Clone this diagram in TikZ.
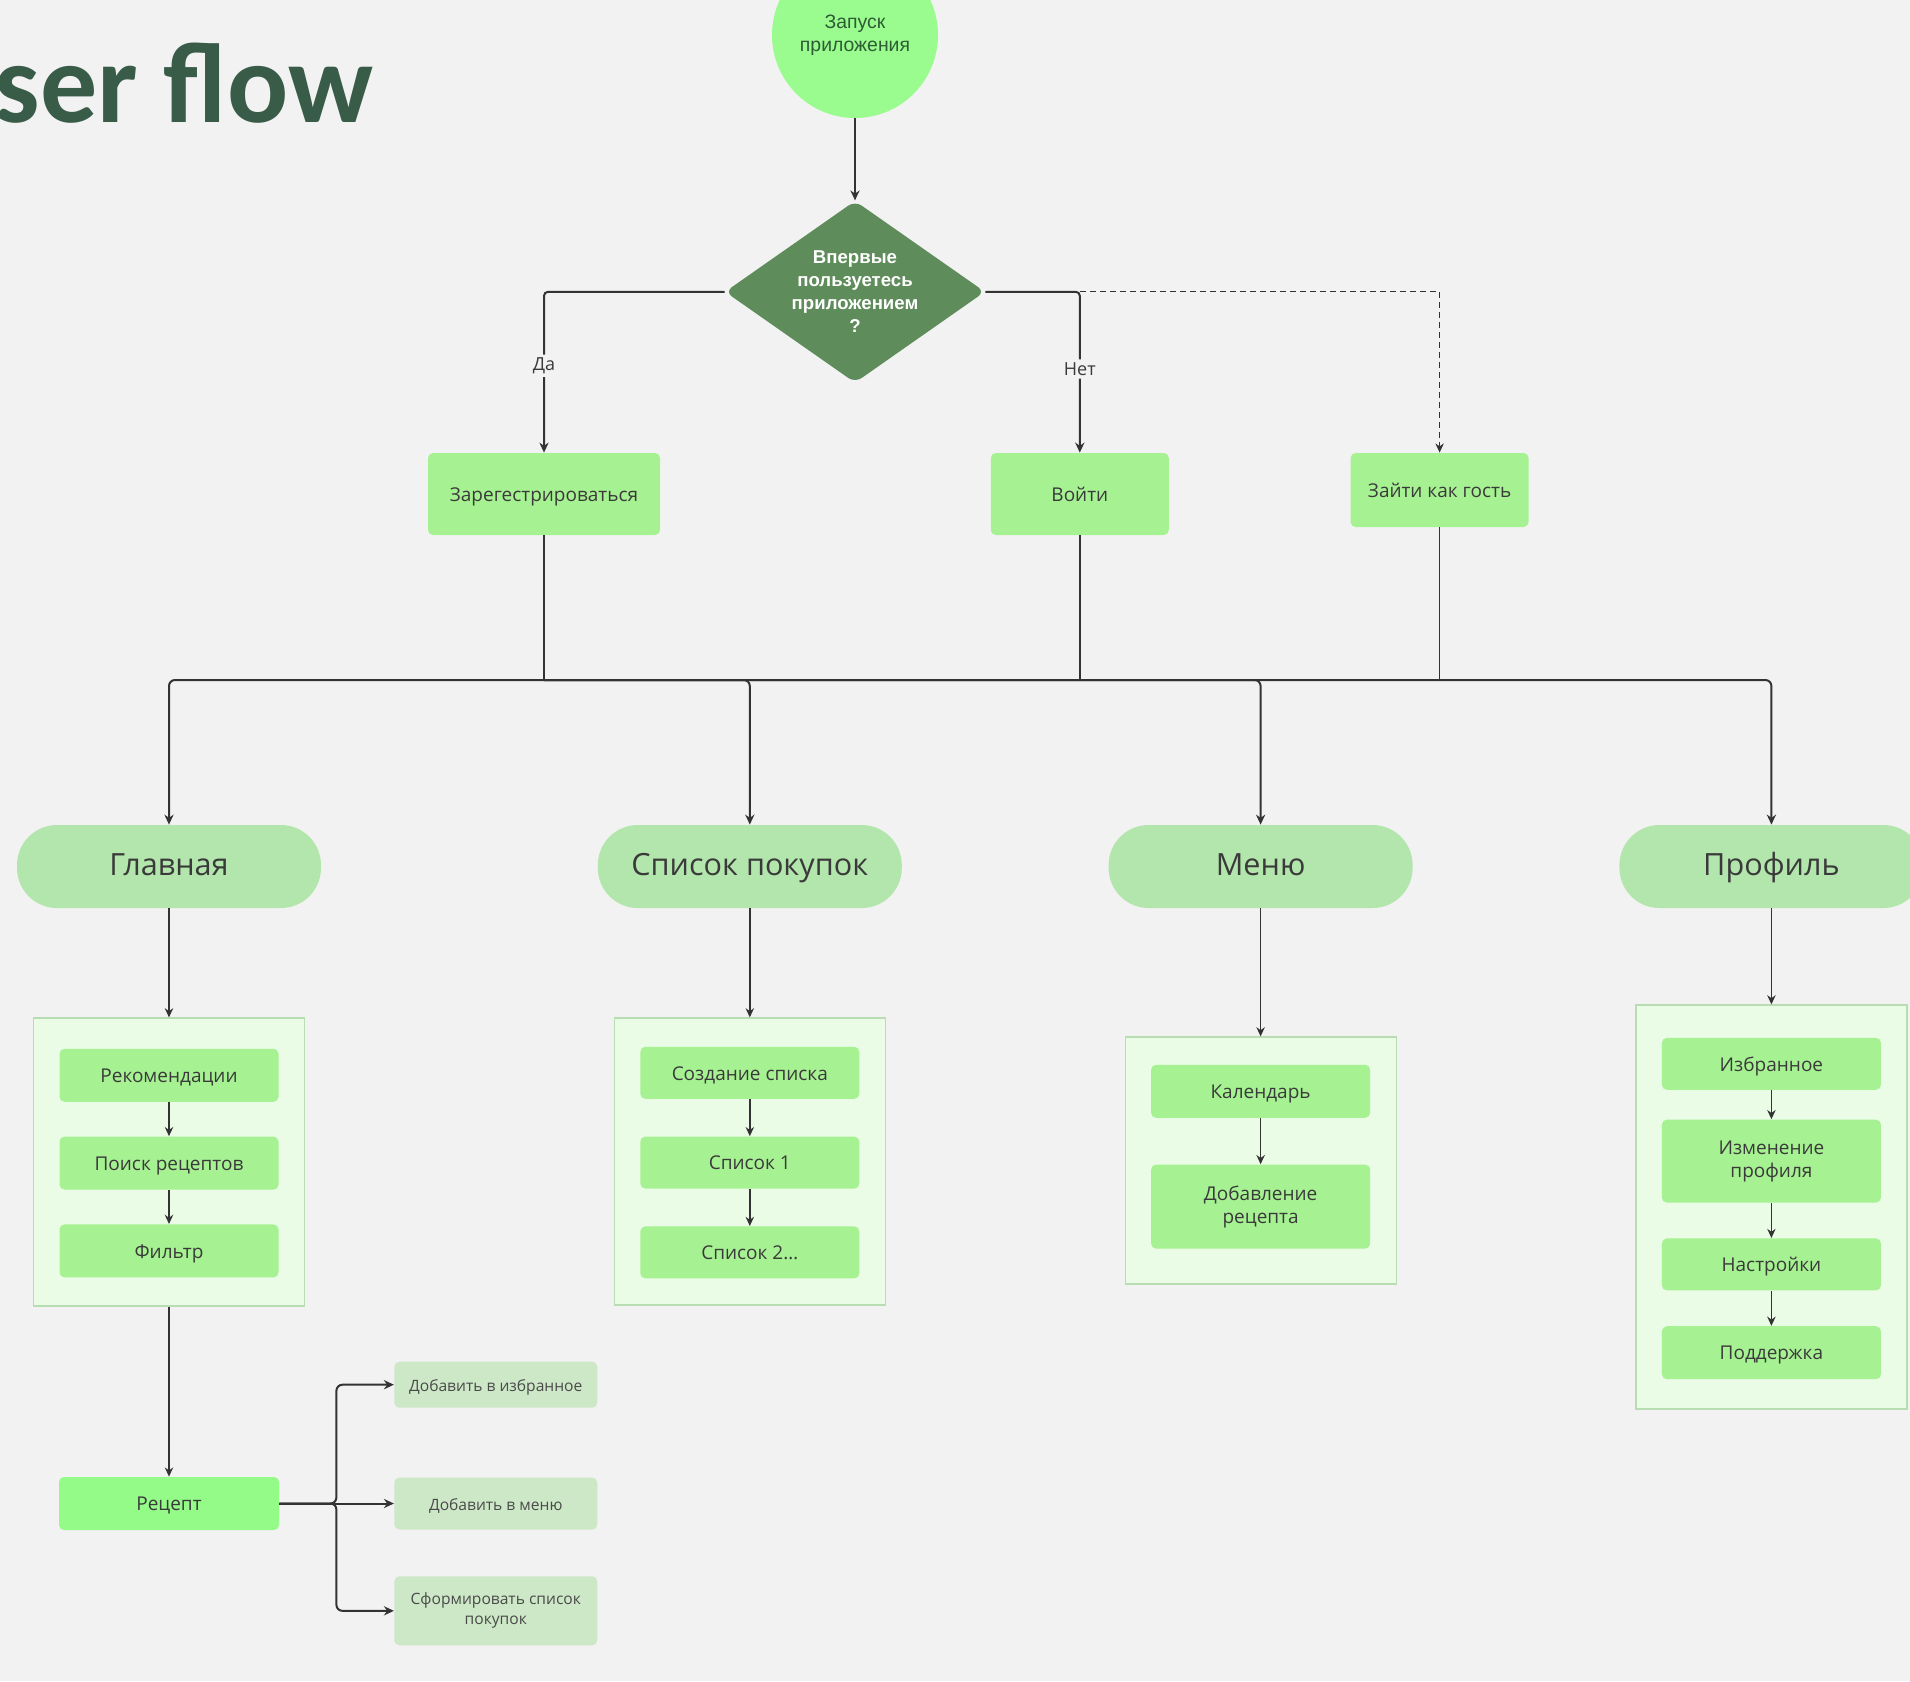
\documentclass[tikz,border=0pt]{standalone}
\usepackage{fontspec}
\setmainfont{Open Sans}
\newfontfamily\arialfont{Liberation Sans}
\newfontfamily\titlefont{Carlito}
\usepackage{tikz}
\usetikzlibrary{arrows.meta,shapes.geometric,positioning}
\definecolor{bg}{HTML}{F2F2F2}
\definecolor{titlec}{HTML}{385C48}
\definecolor{startc}{HTML}{9AFB8E}
\definecolor{startt}{HTML}{2E5C34}
\definecolor{decc}{HTML}{5E8C5A}
\definecolor{boxc}{HTML}{A6F292}
\definecolor{pillc}{HTML}{B3E6AC}
\definecolor{grpc}{HTML}{EAFBE6}
\definecolor{grpline}{HTML}{B8DDB2}
\definecolor{recipec}{HTML}{94FB88}
\definecolor{actc}{HTML}{CDE8C7}
\definecolor{ln}{HTML}{333333}
\definecolor{txt}{HTML}{3A3A3A}
\definecolor{acttxt}{HTML}{4A4A4A}

\begin{document}
\begin{tikzpicture}%[->,>=stealth', node distance=2cm]
\tikzstyle{start}=[fill=startc, shape=circle, minimum size=83pt, inner sep=0pt, align=center, font=\arialfont\fontsize{9.7}{11.5}\selectfont, text=startt]
\tikzstyle{question}=[fill=decc, shape=diamond, aspect=1.43, minimum width=130pt, minimum height=91pt, inner sep=0pt, rounded corners=4pt, align=center, text=white, font=\arialfont\bfseries\fontsize{9.3}{11.5}\selectfont]
\tikzstyle{oneline}=[text height=0.72em, text depth=0pt]
\tikzstyle{choice}=[fill=boxc, shape=rectangle, rounded corners=2.5pt, minimum height=41pt, oneline, font=\fontsize{9.5}{12}\selectfont, text=txt]
\tikzstyle{screen}=[fill=pillc, shape=rectangle, rounded corners=20pt, minimum width=152pt, minimum height=41.5pt, text height=0.85em, text depth=0pt, font=\fontsize{15.3}{18}\selectfont, text=txt]
\tikzstyle{group}=[draw=grpline, line width=0.6pt, fill=grpc, shape=rectangle, minimum width=135.5pt]
\tikzstyle{item}=[fill=boxc, shape=rectangle, rounded corners=2.5pt, minimum width=109.5pt, minimum height=26.5pt, align=center, font=\fontsize{9.5}{11.5}\selectfont, text=txt]
\tikzstyle{action}=[fill=actc, shape=rectangle, rounded corners=2.5pt, minimum width=101.5pt, align=center, font=\fontsize{7.8}{10}\selectfont, text=acttxt]
\tikzstyle{answer}=[fill=bg, inner sep=1.5pt, font=\fontsize{9}{11}\selectfont, text=txt]
\tikzstyle{line}=[draw=ln, line width=1pt, >={Stealth[length=5pt,width=4.6pt]}]
\tikzstyle{small}=[draw=ln, line width=0.75pt, >={Stealth[length=4.6pt,width=4.2pt]}]

\fill[bg] (0,0) rectangle (955pt,-840.5pt);
\useasboundingbox (0,0) rectangle (955pt,-840.5pt);

\node[anchor=base west, inner sep=0pt, text=titlec, font=\titlefont\bfseries\fontsize{57}{60}\selectfont] (31) at (-40pt,-61pt) {User flow};

\node[start] (0) at (427.5pt,-17.5pt) {Запуск\\приложения};
\node[question] (1) [below=41pt of 0] {Впервые\\пользуетесь\\приложением\\?};
\node[choice, minimum width=116pt] (2) at (272pt,-247pt) {Зарегестрироваться};
\node[choice, minimum width=89pt] (3) [right=165pt of 2] {Войти};
\node[choice, minimum width=89pt, minimum height=37pt] (4) [right=90.5pt of 3, yshift=2pt] {Зайти как гость};

\node[screen] (6) at (84.5pt,-433.25pt) {Главная};
\node[screen] (7) [right=138pt of 6] {Список покупок};
\node[screen] (8) [right=103pt of 7] {Меню};
\node[screen] (9) [right=103pt of 8] {Профиль};

\node[group, minimum height=144pt] (10) [below=54.5pt of 6] {};
\node[group, minimum height=143.5pt] (11) [below=54.5pt of 7] {};
\node[group, minimum height=123.5pt] (12) [below=64pt of 8] {};
\node[group, minimum height=202pt] (13) [below=48pt of 9] {};

\node[item, oneline] (14) [below=15.5pt of 10.north] {Рекомендации};
\node[item, oneline] (15) [below=17pt of 14] {Поиск рецептов};
\node[item, oneline] (16) [below=17pt of 15] {Фильтр};

\node[item, oneline, minimum height=26pt] (17) [below=14.5pt of 11.north] {Создание списка};
\node[item, oneline, minimum height=26pt] (18) [below=18.5pt of 17] {Список 1};
\node[item, oneline, minimum height=26pt] (19) [below=18.5pt of 18] {Список 2…};

\node[item, oneline] (20) [below=14pt of 12.north] {Календарь};
\node[item, minimum height=42pt] (21) [below=23pt of 20] {Добавление\\рецепта};

\node[item, oneline, minimum height=26pt] (22) [below=16.5pt of 13.north] {Избранное};
\node[item, minimum height=41.5pt] (23) [below=14.5pt of 22] {Изменение\\профиля};
\node[item, oneline, minimum height=26pt] (24) [below=17.5pt of 23] {Настройки};
\node[item, oneline] (25) [below=17.5pt of 24] {Поддержка};

\node[item, oneline, fill=recipec, minimum width=110pt] (26) [below=85pt of 10] {Рецепт};
\node[action, oneline, minimum height=26pt] (28) [right=57.25pt of 26] {Добавить в меню};
\node[action, oneline, minimum height=23pt] (27) [above=34.5pt of 28] {Добавить в избранное};
\node[action, minimum height=34.5pt] (29) [below=23pt of 28] {Сформировать список\\покупок};

\draw[line, ->] (0) -- (1);
\draw[line, ->, rounded corners=2pt] (1.west) -| node[answer, pos=0.73] {Да} (2);
\draw[line, ->, rounded corners=2pt] (1.east) -| node[answer, pos=0.74] {Нет} (3);
\draw[small, dashed, dash pattern=on 3pt off 2pt, line width=0.6pt, ->] (3 |- 1) -| (4);

\coordinate (5) at (0,-340pt);
\draw[line] (2) -- (2 |- 5);
\draw[line] (3) -- (3 |- 5);
\draw[line, line width=0.6pt] (4) -- (4 |- 5);
\draw[line, ->, rounded corners=3pt] (2 |- 5) -| (6);
\draw[line, ->, rounded corners=3pt] (2 |- 5) -| (7);
\draw[line, ->, rounded corners=3pt] (2 |- 5) -| (8);
\draw[line, ->, rounded corners=3pt] (2 |- 5) -| (9);

\draw[small, ->] (6) -- (10);
\draw[small, ->] (7) -- (11);
\draw[small, ->] (8) -- (12);
\draw[small, ->] (9) -- (13);

\draw[small, ->] (14) -- (15);
\draw[small, ->] (15) -- (16);
\draw[small, ->] (17) -- (18);
\draw[small, ->] (18) -- (19);
\draw[small, ->] (20) -- (21);
\draw[small, ->] (22) -- (23);
\draw[small, ->] (23) -- (24);
\draw[small, ->] (24) -- (25);

\draw[small, ->] (10) -- (26);
\coordinate (30) at ([xshift=28.5pt]26.east);
\draw[line, ->, rounded corners=3pt] (26) -- (30) |- (27);
\draw[line, ->] (26) -- (28);
\draw[line, ->, rounded corners=3pt] (26) -- (30) |- (29);

\end{tikzpicture}
\end{document}
